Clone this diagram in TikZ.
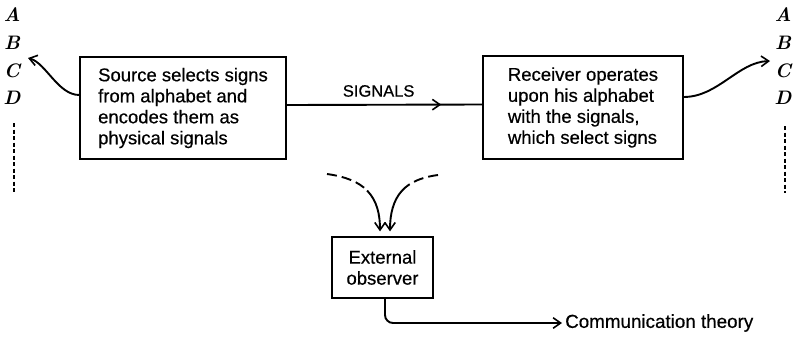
\documentclass[tikz,border=0pt]{standalone}
\usepackage{fontspec}
\newfontfamily\labelfont{Liberation Sans}[FakeBold=0.5]
\usetikzlibrary{arrows.meta,decorations.markings,calc}
\begin{document}
\begin{tikzpicture}[x=1pt,y=-1pt,
  box/.style={draw,line width=1.3pt,align=left,inner sep=0pt,
    font=\labelfont\fontsize{18.5}{21}\selectfont},
  conn/.style={line width=1.9pt},
  barb/.style={-{Straight Barb[length=7.5pt,width=10.5pt,line width=1.6pt]}},
  letter/.style={inner sep=0pt,font=\fontsize{19.5}{19.5}\selectfont\bfseries\itshape},
  dots/.style={line width=2.2pt,dash pattern=on 4pt off 2.5pt},
  dashpart/.style={line width=1.9pt,dash pattern=on 10pt off 5pt},
  lbl/.style={inner sep=0pt,font=\labelfont\fontsize{18.8}{21}\selectfont}]
\useasboundingbox (0,0) rectangle (795,338);

% boxes
\node[box,minimum width=206pt,minimum height=102pt] (L) at (183,108)
  {Source selects signs\\from alphabet and\\encodes them as\\physical signals};
\node[box,minimum width=200pt,minimum height=103pt] (R) at (583,107.5)
  {Receiver operates\\upon his alphabet\\with the signals,\\which select signs};
\node[box,align=center,minimum width=101pt,minimum height=61pt] (O) at (382.5,267.5)
  {External\\observer};

% letters
\foreach \l/\y in {A/15,B/43,C/71,D/98}{
  \node[letter] (L\l) at (12,\y) {\l};
  \node[letter] (R\l) at (783,\y) {\l};
}
\coordinate (ldt) at (14,123);
\coordinate (ldb) at (14,193);
\coordinate (rdt) at (785,126);
\coordinate (rdb) at (785,193);
\draw[dots] (ldt) -- (ldb);
\draw[dots] (rdt) -- (rdb);

% signals
\draw[conn,postaction={decorate},decoration={markings,
    mark=at position 0.79 with {\arrow{Straight Barb[length=7.5pt,width=10.5pt,line width=1.6pt]}}}]
  ([yshift=3pt]L.east) -- node[lbl,pos=0.47,above=7pt,font=\labelfont\fontsize{16.5}{18}\selectfont]{SIGNALS} ([yshift=3pt]R.west);

% side curves
\coordinate (lt) at (28,58);
\coordinate (rt) at (770,61);
\draw[conn,barb] ([yshift=13pt]L.west) .. controls (58,95) and (46,63) .. (lt);
\draw[conn,barb] ([yshift=10.5pt]R.east) .. controls (718,97) and (738,62) .. (rt);

% observer inputs
\coordinate (ls) at (327,174);
\coordinate (lm) at (367.11,190.54);
\coordinate (rs) at (438,175);
\coordinate (rm) at (402.07,190.59);
\draw[dashpart] (ls) .. controls (346.35,176.7) and (359.02,182.24) .. (lm);
\draw[conn,barb] (lm) .. controls (376.98,200.68) and (380,214.4) .. ([xshift=-2.5pt,yshift=5pt]O.north);
\draw[dashpart] (rs) .. controls (420.9,177.25) and (409.47,182.54) .. (rm);
\draw[conn,barb] (rm) .. controls (393.03,200.43) and (390,214.4) .. ([xshift=7.5pt,yshift=5pt]O.north);

% output
\node[lbl,anchor=west,inner sep=3pt] (ct) at (562,323) {Communication theory};
\draw[conn,barb,rounded corners=8pt] ([xshift=2.5pt]O.south) |- (ct.west);
\end{tikzpicture}
\end{document}
